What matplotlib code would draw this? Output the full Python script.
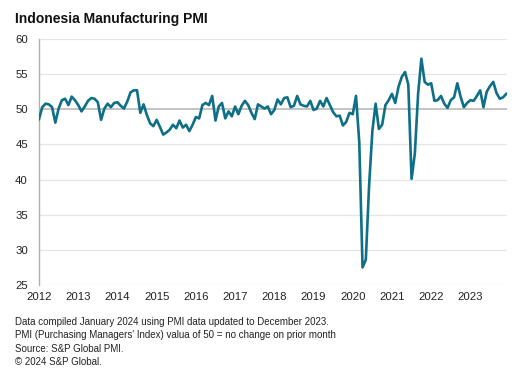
import matplotlib
matplotlib.use("Agg")
import matplotlib.pyplot as plt
import numpy as np

plt.rcParams['font.family'] = ['Liberation Sans', 'DejaVu Sans']

years = list(range(2012, 2024))
pmi_2012 = [48.6, 50.3, 50.8, 50.7, 50.3, 48.1, 50.1, 51.3, 51.5, 50.6, 51.8, 51.3]
pmi_2013 = [50.6, 49.7, 50.4, 51.2, 51.6, 51.5, 51.0, 48.5, 50.1, 50.8, 50.3, 50.9]
pmi_2014 = [51.0, 50.5, 50.1, 51.1, 52.4, 52.7, 52.7, 49.5, 50.7, 49.2, 48.0, 47.6]
pmi_2015 = [48.5, 47.5, 46.4, 46.7, 47.1, 47.8, 47.3, 48.4, 47.4, 47.8, 46.9, 47.8]
pmi_2016 = [48.9, 48.7, 50.6, 50.9, 50.6, 51.9, 48.4, 50.4, 50.9, 48.7, 49.7, 49.0]
pmi_2017 = [50.4, 49.3, 50.5, 51.2, 50.6, 49.5, 48.6, 50.7, 50.4, 50.1, 50.4, 49.3]
pmi_2018 = [49.9, 51.4, 50.7, 51.6, 51.7, 50.3, 50.5, 51.9, 50.7, 50.5, 50.4, 51.2]
pmi_2019 = [49.9, 50.1, 51.2, 50.4, 51.6, 50.6, 49.6, 49.0, 49.1, 47.7, 48.2, 49.5]
pmi_2020 = [49.3, 51.9, 45.3, 27.5, 28.6, 39.1, 46.9, 50.8, 47.2, 47.8, 50.6, 51.3]
pmi_2021 = [52.2, 50.9, 53.2, 54.6, 55.3, 53.5, 40.1, 43.7, 52.2, 57.2, 53.9, 53.5]
pmi_2022 = [53.7, 51.2, 51.3, 51.9, 50.8, 50.2, 51.3, 51.7, 53.7, 51.8, 50.3, 50.9]
pmi_2023 = [51.3, 51.2, 51.9, 52.7, 50.3, 52.5, 53.3, 53.9, 52.3, 51.5, 51.7, 52.2]

pmi = (pmi_2012 + pmi_2013 + pmi_2014 + pmi_2015 + pmi_2016 + pmi_2017 +
       pmi_2018 + pmi_2019 + pmi_2020 + pmi_2021 + pmi_2022 + pmi_2023)
months = np.arange(len(pmi))

yticks = [25, 30, 35, 40, 45, 50, 55, 60]

W, H = 519, 376
fig = plt.figure(figsize=(W / 100, H / 100), dpi=100)
ax = fig.add_axes([39 / W, 1 - 285 / H, (507 - 39) / W, (285 - 39) / H])

for y in yticks:
    if y == 50:
        ax.axhline(y, color='#c4c4c4', lw=1.4, zorder=1)
    else:
        ax.axhline(y, color='#e6e6e6', lw=0.9, zorder=1)

ax.plot(months, pmi, color='#0e6f86', lw=1.9, zorder=3, solid_joinstyle='round')

ax.set_xlim(0, 143.2)
ax.set_ylim(25, 60)
ax.set_yticks(yticks)
ax.set_yticklabels([str(y) for y in yticks])
ax.set_xticks([12 * i for i in range(len(years))])
ax.set_xticklabels([str(y) for y in years])

for s in ['top', 'right', 'bottom']:
    ax.spines[s].set_visible(False)
ax.spines['left'].set_color('#b0b0b0')
ax.spines['left'].set_linewidth(1.0)
ax.tick_params(axis='both', length=0, labelsize=8.2, colors='#222222')
ax.tick_params(axis='y', pad=8)
ax.tick_params(axis='x', pad=5)

fig.text(15 / W, 1 - 19 / H, 'Indonesia Manufacturing PMI', fontsize=10,
         fontweight='bold', color='#111111', va='center', ha='left')

notes = ['Data compiled January 2024 using PMI data updated to December 2023.',
         "PMI (Purchasing Managers' Index) valua of 50 = no change on prior month",
         'Source: S&P Global PMI.',
         '\u00a9 2024 S&P Global.']
for i, t in enumerate(notes):
    fig.text(15 / W, 1 - (322 + 13.4 * i) / H, t, fontsize=7, color='#222222',
             va='center', ha='left')

fig.savefig('out.png', dpi=100, facecolor='white')
